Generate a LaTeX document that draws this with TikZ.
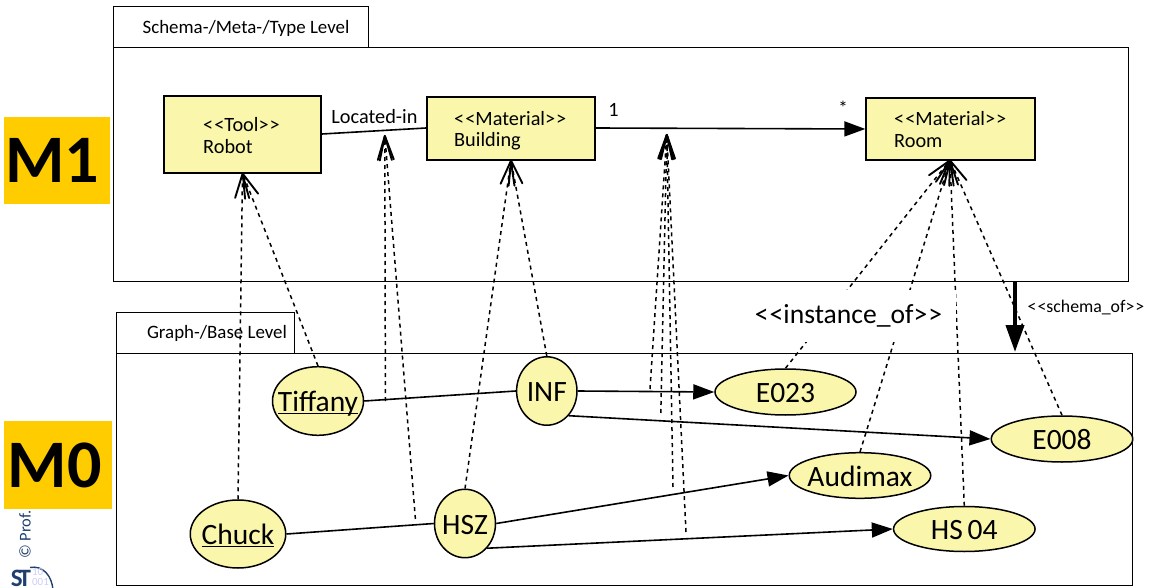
\documentclass[tikz,border=0pt]{standalone}
\usepackage{fontspec}
\setmainfont{Carlito}
\usetikzlibrary{arrows.meta,shapes.geometric}
\definecolor{fillY}{HTML}{FAF7AC}
\definecolor{gold}{HTML}{FFCC00}
\definecolor{stblue}{HTML}{1F3F6E}
\newcommand{\objtext}[1]{\makebox[0pt][c]{\raisebox{-10.5pt}[0pt][0pt]{#1}}}
\tikzset{
  x=1pt,y=-1pt,
  frame/.style={draw=black,line width=1pt,fill=white,inner sep=0},
  classbox/.style={draw=black,line width=1.8pt,fill=fillY,rectangle,inner sep=0},
  obj/.style={draw=black,line width=1.5pt,fill=fillY,ellipse,inner sep=0,font=\fontsize{29.5}{32}\selectfont},
  level/.style={fill=gold,inner sep=0,font=\fontsize{68}{70}\selectfont\bfseries},
  solidlink/.style={line width=1.6pt},
  dirlink/.style={line width=1.6pt,-{Triangle[length=21pt,width=15pt]}},
  inst/.style={line width=1.5pt,dash pattern=on 4pt off 4pt,-{Straight Barb[length=24pt,width=14pt,line width=1.9pt,round=false]}},
  lbl/.style={inner sep=0,font=\fontsize{20.3}{23}\selectfont},
  small/.style={inner sep=0,font=\fontsize{18.9}{22}\selectfont},
}
\begin{document}
\begin{tikzpicture}
\useasboundingbox (0,0) rectangle (1154,588);
\clip (0,0) rectangle (1154,588);
% credit
\node[rotate=90,anchor=west,inner sep=0,text=stblue,font=\fontsize{16.5}{17}\selectfont] (credit) at (25,559) {© Prof. U};
\draw[stblue,line width=1.4pt] (30,567.5) .. controls (43,565) and (52,576) .. (53,590);
\node[inner sep=0,text=blue!20,align=left,font=\fontsize{11}{9.5}\selectfont] (bits) at (40.5,577) {10\\001};
\node[inner sep=0,text=stblue,font=\fontsize{25}{25}\selectfont\bfseries] (logo) at (21,578) {S\kern-4pt T};
% frames
\path[frame,draw] (113,7) rectangle (368.5,48);
\node[small,anchor=center] (t1) at (246,28) {Schema-/Meta-/Type Level};
\path[frame,draw] (113,48) rectangle (1128,281);
\coordinate (schemaS) at (1015,281);
\path[frame,draw] (116.5,312) rectangle (294.7,353);
\path[frame,draw] (116.5,353) rectangle (1132,585.7);
\node[small,anchor=center] (t2) at (217,333) {Graph-/Base Level};
\coordinate (schemaE) at (1015,352);
% level labels
\node[level,minimum width=106pt,minimum height=87pt] (M1) at (57,160.5) {\kern-9pt M1};
\node[level,minimum width=108.5pt,minimum height=87.7pt] (M0) at (58.2,465) {\kern-7pt M0};
% classes
\node[classbox,minimum width=157pt,minimum height=76.5pt] (robot) at (242.5,134.5) {};
\node[lbl,anchor=west] (robotA) at (203,124.5) {<\kern1pt<Tool>\kern1pt>};
\node[lbl,anchor=west] (robotB) at (203,146.5) {Robot};
\node[classbox,minimum width=168pt,minimum height=63pt] (building) at (511,128.5) {};
\node[lbl,anchor=west] (buildA) at (454,118.5) {<\kern1pt<Material>\kern1pt>};
\node[lbl,anchor=west] (buildB) at (454,141) {Building};
\node[classbox,minimum width=168.5pt,minimum height=62pt] (room) at (950.5,129) {};
\node[lbl,anchor=west] (roomA) at (894,118.5) {<\kern1pt<Material>\kern1pt>};
\node[lbl,anchor=west] (roomB) at (894,141.5) {Room};
% objects
\node[obj,minimum width=91pt,minimum height=68.6pt] (tiffany) at (318,401) {\objtext{\underline{\smash{Tiffany}}}};
\node[obj,minimum width=60.4pt,minimum height=68.4pt] (inf) at (546.8,391) {\objtext{INF}};
\node[obj,minimum width=95.5pt,minimum height=68pt] (chuck) at (238,534) {\objtext{\underline{\smash{Chuck}}}};
\node[obj,minimum width=61pt,minimum height=68.4pt] (hsz) at (465,523.5) {\objtext{HSZ}};
\node[obj,minimum width=141pt,minimum height=46pt] (e023) at (785.5,392) {\objtext{E023}};
\node[obj,minimum width=141.5pt,minimum height=46pt] (e008) at (1062,439) {\objtext{E008}};
\node[obj,minimum width=141.5pt,minimum height=45.6pt] (audimax) at (860,475.5) {\objtext{Audimax}};
\node[obj,minimum width=141.5pt,minimum height=45pt] (hs04) at (964.3,529) {\objtext{HS\,04}};
% anchors for link targets
\coordinate (tipRobot) at (242.5,173);
\coordinate (tipBuilding) at (511,160);
\coordinate (tipRoom) at (950,160);
\coordinate (tipLocated) at (384.8,135);
\coordinate (tipContains) at (666.8,134);
\coordinate (s1) at (385.4,401);
\coordinate (s2) at (415.4,519);
\coordinate (s3) at (650,389);
\coordinate (s4) at (660.8,413);
\coordinate (s5) at (673,487);
\coordinate (s6) at (686,532);
% model links
\draw[solidlink] (robot.east|-0,134) -- (building.west|-0,128);
\draw[dirlink] (building.east|-0,128) -- (room.west|-0,129);
\draw[solidlink] (tiffany.east) -- (inf.west);
\draw[dirlink] (inf.east) -- (e023.west);
\draw[dirlink] (inf.south east) -- (e008.west);
\draw[solidlink] (chuck.east) -- (hsz.west);
\draw[dirlink] (hsz.east) -- (audimax.west);
\draw[dirlink] (hsz.south east) -- (hs04.west);
% instance-of links
\draw[inst] (chuck.north) -- (tipRobot);
\draw[inst] (tiffany.north) -- (tipRobot);
\draw[inst] (s1) -- (tipLocated);
\draw[inst] (s2) -- (tipLocated);
\draw[inst] (hsz.north) -- (tipBuilding);
\draw[inst] (inf.north) -- (tipBuilding);
\draw[inst] (s3) -- (tipContains);
\draw[inst] (s4) -- (tipContains);
\draw[inst] (s5) -- (tipContains);
\draw[inst] (s6) -- (tipContains);
\draw[inst] (e023.north) -- (tipRoom);
\draw[inst] (audimax.north) -- (tipRoom);
\draw[inst] (hs04.north) -- (tipRoom);
\draw[inst] (e008.north) -- (tipRoom);
% labels
\node[fill=white,inner sep=0,minimum width=208.3pt,minimum height=52pt,font=\fontsize{27.6}{30}\selectfont] (inst) at (852.2,316) {\kern-7.4pt<\kern1pt<instance\_of>\kern1pt>};
\draw[line width=4pt,-{Triangle[length=27pt,width=18pt]}] (schemaS) -- (schemaE);
\node[inner sep=0,anchor=west,font=\fontsize{17.8}{20}\selectfont] (schemaL) at (1027.5,308) {<\kern1pt<schema\_of>\kern1pt>};
\node[lbl,anchor=center] (loc) at (374.5,116.5) {Located-in};
\node[lbl,anchor=center] (one) at (613.5,110) {1};
\node[small,anchor=center] (star) at (843,108) {*};
\end{tikzpicture}
\end{document}
